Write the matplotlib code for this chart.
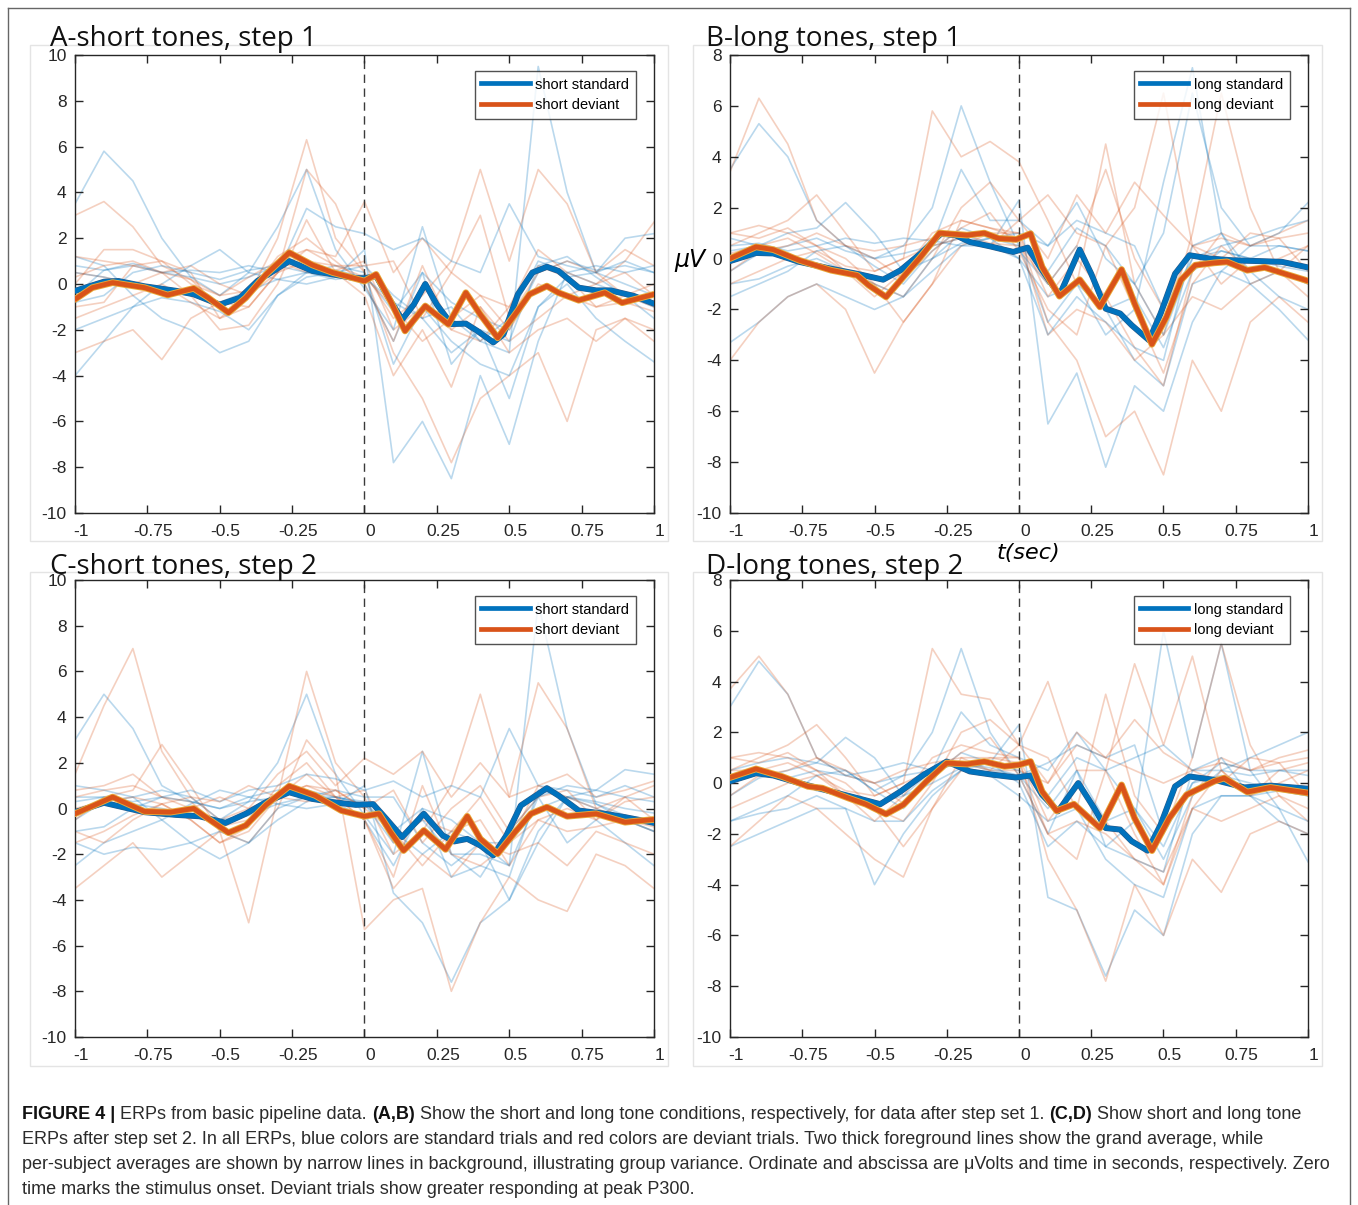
import numpy as np
import matplotlib
matplotlib.use('Agg')
import matplotlib.pyplot as plt
import matplotlib.patheffects as pe
import matplotlib.transforms as mtransforms
from matplotlib.lines import Line2D
from matplotlib.patches import Rectangle

BLUE = '#0072BD'
RED = '#D95319'

# grand averages (knots)
A_std_t = [-1, -0.9, -0.85, -0.76, -0.65, -0.59, -0.5, -0.43, -0.37, -0.26, -0.18, -0.11, -0.03, 0, 0.04, 0.09, 0.13, 0.17, 0.21, 0.25, 0.3, 0.35, 0.39, 0.445, 0.48, 0.53, 0.58, 0.63, 0.67, 0.74, 0.8, 0.85, 0.93, 1]
A_std_v = [-0.3, 0.1, 0.13, -0.1, -0.3, -0.45, -0.9, -0.6, 0.13, 1.0, 0.57, 0.42, 0.25, 0.25, 0.35, -0.75, -1.55, -0.9, 0.0, -0.9, -1.75, -1.73, -2.05, -2.55, -2.2, -0.45, 0.5, 0.75, 0.57, -0.16, -0.28, -0.28, -0.52, -0.86]
A_dev_t = [-1, -0.94, -0.87, -0.76, -0.68, -0.59, -0.54, -0.47, -0.41, -0.34, -0.26, -0.18, -0.11, 0, 0.04, 0.09, 0.14, 0.21, 0.29, 0.35, 0.4, 0.46, 0.52, 0.57, 0.63, 0.67, 0.74, 0.83, 0.89, 1]
A_dev_v = [-0.67, -0.16, 0.06, -0.16, -0.48, -0.19, -0.6, -1.25, -0.6, 0.42, 1.37, 0.83, 0.5, 0.13, 0.42, -0.75, -2.05, -0.96, -1.76, -0.38, -1.33, -2.35, -1.33, -0.45, -0.09, -0.38, -0.71, -0.38, -0.82, -0.45]

B_std_t = [-1, -0.91, -0.85, -0.76, -0.65, -0.56, -0.47, -0.41, -0.34, -0.27, -0.22, -0.17, -0.1, -0.02, 0.03, 0.08, 0.14, 0.21, 0.25, 0.3, 0.35, 0.39, 0.45, 0.49, 0.54, 0.59, 0.66, 0.74, 0.83, 0.91, 1]
B_std_v = [-0.1, 0.22, 0.2, -0.13, -0.4, -0.6, -0.83, -0.46, 0.2, 0.98, 0.92, 0.65, 0.48, 0.26, 0.43, -0.46, -1.44, 0.35, -0.6, -1.97, -2.16, -2.62, -3.21, -2.16, -0.6, 0.13, 0.0, -0.07, -0.1, -0.13, -0.35]
B_dev_t = [-1, -0.91, -0.85, -0.76, -0.65, -0.56, -0.52, -0.46, -0.41, -0.34, -0.275, -0.18, -0.12, -0.07, -0.01, 0.04, 0.08, 0.14, 0.21, 0.28, 0.355, 0.4, 0.46, 0.51, 0.56, 0.61, 0.675, 0.72, 0.79, 0.85, 0.92, 1]
B_dev_v = [0.0, 0.46, 0.35, -0.07, -0.46, -0.66, -1.05, -1.51, -0.85, 0.07, 1.0, 0.92, 1.0, 0.79, 0.75, 0.98, -0.33, -1.48, -0.83, -1.9, -0.43, -1.77, -3.37, -2.3, -0.85, -0.26, -0.17, -0.13, -0.46, -0.35, -0.6, -0.88]

C_std_t = [-1, -0.9, -0.76, -0.65, -0.57, -0.48, -0.41, -0.34, -0.26, -0.18, -0.11, -0.03, 0.03, 0.075, 0.13, 0.205, 0.27, 0.31, 0.355, 0.4, 0.445, 0.49, 0.54, 0.63, 0.67, 0.74, 0.83, 0.9, 1]
C_std_v = [-0.16, 0.25, -0.16, -0.28, -0.34, -0.63, -0.23, 0.28, 0.71, 0.42, 0.28, 0.16, 0.19, -0.45, -1.25, -0.23, -1.18, -1.44, -1.33, -1.62, -2.05, -1.18, 0.13, 0.89, 0.57, -0.09, -0.23, -0.38, -0.63]
C_dev_t = [-1, -0.87, -0.76, -0.67, -0.59, -0.54, -0.47, -0.41, -0.34, -0.26, -0.17, -0.08, 0, 0.05, 0.09, 0.135, 0.205, 0.28, 0.355, 0.4, 0.46, 0.52, 0.575, 0.63, 0.7, 0.8, 0.9, 1]
C_dev_v = [-0.23, 0.5, -0.13, -0.16, 0.0, -0.45, -1.06, -0.74, 0.16, 0.98, 0.57, -0.09, -0.34, -0.23, -1.03, -1.84, -0.96, -1.79, -0.34, -1.33, -1.98, -1.03, -0.23, 0.06, -0.34, -0.23, -0.6, -0.48]

D_std_t = [-1, -0.91, -0.85, -0.76, -0.65, -0.56, -0.48, -0.41, -0.33, -0.25, -0.17, -0.09, -0.01, 0.04, 0.08, 0.135, 0.205, 0.26, 0.3, 0.35, 0.39, 0.445, 0.49, 0.54, 0.59, 0.675, 0.78, 0.87, 1]
D_std_v = [0.07, 0.39, 0.3, 0.0, -0.33, -0.59, -0.83, -0.33, 0.33, 0.85, 0.46, 0.33, 0.22, 0.3, -0.46, -1.11, 0.0, -0.98, -1.77, -1.83, -2.29, -2.66, -1.64, -0.13, 0.26, 0.13, -0.17, -0.1, -0.22]
D_dev_t = [-1, -0.91, -0.82, -0.73, -0.68, -0.59, -0.53, -0.46, -0.4, -0.32, -0.25, -0.18, -0.12, -0.05, 0, 0.04, 0.08, 0.13, 0.19, 0.28, 0.355, 0.4, 0.46, 0.52, 0.58, 0.675, 0.71, 0.79, 0.87, 1]
D_dev_v = [0.22, 0.56, 0.26, -0.13, -0.2, -0.59, -0.83, -1.22, -0.85, 0.07, 0.79, 0.75, 0.85, 0.66, 0.72, 0.85, -0.33, -1.09, -0.83, -1.77, -0.07, -1.38, -2.66, -1.38, -0.46, 0.07, 0.2, -0.35, -0.17, -0.39]

# per-subject averages, sampled every 0.1 s from -1 to 1
bg_t = [-1.0, -0.9, -0.8, -0.7, -0.6, -0.5, -0.4, -0.3, -0.2, -0.1, 0.0, 0.1, 0.2, 0.3, 0.4, 0.5, 0.6, 0.7, 0.8, 0.9, 1.0]

A_std_bg = [
    [3.5, 5.8, 4.5, 2.0, 0.3, 0.0, 0.3, 0.8, 0.5, 0.2, 0.4, -1.2, 0.5, -0.8, -1.5, -2.0, 0.5, 1.0, 0.6, 0.8, 0.5],
    [-0.5, 0.6, 0.8, 0.5, 0.3, -0.5, 0.5, 2.5, 5.0, 1.5, -0.2, -2.0, 2.5, -1.5, -2.5, -3.0, 9.5, 4.0, 0.5, 0.0, -0.5],
    [-4.0, -2.5, -1.0, 0.0, 0.8, 1.5, 0.5, 0.2, 0.0, 0.3, 1.5, -7.8, -6.0, -8.5, -4.0, -7.0, -2.5, 0.5, 0.0, -0.5, -1.0],
    [1.2, 0.8, -0.5, -1.5, -2.0, -3.0, -2.5, -0.5, 0.3, 0.5, 0.8, -0.5, -1.5, -3.0, -2.0, -5.0, -1.0, 0.3, 0.5, 2.0, 2.2],
    [-2.0, -1.5, -1.0, -0.6, -0.8, -1.2, -2.0, -0.5, 0.5, 0.8, 0.5, -3.5, -1.0, -2.5, -3.5, -4.0, -1.0, 0.0, -1.5, -2.5, -3.4],
    [0.8, 0.6, 0.9, 0.5, 0.6, 0.5, 0.8, 0.5, 3.3, 2.5, 2.2, 1.5, 2.0, 1.0, 0.5, 3.5, 1.2, 0.8, 0.5, 1.0, 0.5],
    [0.5, 0.3, 0.0, -0.3, -0.5, -0.8, -0.3, 0.2, 0.5, 0.6, 0.3, -0.8, -1.5, -1.0, -2.5, -1.5, 1.0, 0.5, 0.8, 0.5, 0.8],
    [-0.8, -0.5, 0.5, 0.8, 0.5, 0.2, 0.6, 0.8, 1.0, 0.5, 0.0, -2.5, 0.5, -3.5, -2.0, -2.5, 0.8, 1.2, 0.3, -0.5, -1.5],
]
A_dev_bg = [
    [3.0, 3.6, 2.5, 0.8, 0.2, -0.5, 0.3, 1.0, 0.5, 0.6, 1.0, -2.0, -1.0, -2.0, -1.0, -2.5, -1.5, -0.5, 0.0, 1.0, 2.7],
    [0.5, 0.3, 0.0, 0.5, 0.8, 0.0, -0.5, 2.0, 6.3, 2.0, 0.5, -1.5, -0.5, 1.0, 5.0, 1.0, 5.0, 3.5, 0.5, -0.5, -1.0],
    [-3.0, -2.5, -2.0, -3.3, -1.5, -0.8, -1.0, 0.5, 5.0, 3.5, 0.5, -3.0, -5.0, -7.8, -5.0, -4.0, -3.0, -6.0, -2.0, -1.5, -2.5],
    [1.2, 1.0, 0.8, 1.0, 0.5, -1.5, -1.0, 0.5, 1.5, 1.2, 3.6, 0.5, 2.0, 0.5, 3.0, -1.5, 0.5, 1.0, 0.5, 1.5, 0.8],
    [-1.0, -0.8, 0.8, 0.5, -0.5, -2.0, -1.8, 0.0, 2.8, 0.5, -0.5, -4.0, -2.0, -4.5, -1.0, -3.0, -2.0, -1.5, -2.5, -1.5, -2.0],
    [0.0, 1.5, 1.5, 1.0, 0.0, -0.5, -0.3, 1.0, 1.5, 0.8, 0.8, 1.0, -1.5, 0.5, -0.5, -1.0, 0.8, 0.3, -1.0, -0.5, 0.0],
    [0.3, 0.8, 1.0, 0.5, 0.2, -1.0, -0.5, 0.5, 1.0, 0.8, 0.3, -1.0, -2.5, -1.5, -0.5, -2.0, 0.0, -0.5, -1.0, -0.8, -1.2],
    [-1.5, -1.0, -0.5, 0.0, -0.8, -1.5, -0.5, 1.2, 2.0, 1.0, 0.0, -2.5, 0.8, -2.0, -2.5, -1.0, 1.5, 0.5, 0.0, 0.5, -0.5],
]
B_std_bg = [
    [3.5, 5.3, 4.0, 1.5, 0.5, 0.0, 0.2, 0.5, 0.8, 0.5, 0.3, -1.0, 0.5, -2.0, -1.5, -3.5, -0.5, 0.3, 0.0, 0.5, 0.3],
    [-0.5, 0.2, 0.5, 0.8, 0.3, 0.0, 0.5, 2.0, 6.0, 3.0, 0.5, -2.5, -1.0, -3.0, -2.0, 3.0, 7.5, 1.0, -1.0, -0.5, -1.0],
    [-3.3, -2.5, -1.5, -1.0, -1.5, -2.0, -1.5, -0.5, 0.5, 0.5, 2.3, -6.5, -4.5, -8.2, -5.0, -6.0, -2.5, -0.5, -1.0, -2.0, -3.2],
    [0.8, 0.5, 1.0, 1.2, 2.2, 1.0, -0.5, 0.5, 3.5, 1.5, 1.5, 0.5, 2.2, 0.0, -1.0, 1.0, 6.5, 2.0, 0.5, 1.0, 2.2],
    [-1.0, -0.8, -0.3, 0.0, -0.5, -1.0, -1.5, 0.0, 1.0, 0.5, 0.0, -1.5, -1.0, -2.0, -4.0, -5.0, -1.0, -0.5, 0.5, 0.5, 0.3],
    [0.5, 0.6, 0.3, 0.5, 0.8, 0.6, 0.8, 0.7, 0.5, 0.8, 1.0, 0.5, 1.5, 1.0, 0.5, -2.0, 0.0, 0.5, 0.8, 1.2, 1.5],
    [0.3, 0.5, 0.2, -0.3, -0.5, -0.8, -0.5, 0.0, 0.6, 0.8, 0.5, -0.5, 1.2, 0.5, -1.0, -3.0, 0.0, 0.3, 0.0, -0.3, -0.5],
    [-1.5, -1.0, -0.5, 0.3, 0.5, -0.3, -1.0, 0.3, 1.2, 0.8, 0.0, -3.0, -1.5, -2.5, -3.5, -4.0, 0.5, 1.0, -0.5, -1.5, -2.0],
]
B_dev_bg = [
    [3.4, 6.3, 4.5, 1.5, 0.5, 0.3, 0.5, 0.8, 1.0, 0.6, 0.5, -1.0, 0.5, 3.5, 0.0, -2.0, 0.5, 0.8, 0.5, 1.0, 1.5],
    [0.5, 1.0, 1.5, 2.5, 1.0, -0.5, 0.0, 5.8, 4.0, 4.6, 3.8, 1.5, -1.0, 4.5, -1.0, -3.0, 1.0, 6.5, 2.0, -0.5, -1.0],
    [-4.0, -2.5, -1.5, -1.0, -2.0, -4.5, -2.5, -1.0, 0.5, 1.0, 1.0, -2.5, -4.0, -7.0, -6.0, -8.5, -4.0, -6.0, -2.5, -1.5, -2.5],
    [0.2, 0.5, 0.8, 0.2, -0.5, -1.0, -1.5, 0.0, 2.0, 3.0, 1.5, 2.5, 1.0, 0.5, 2.0, 6.5, 0.5, -1.0, 0.0, -0.5, 0.5],
    [1.0, 1.3, 1.0, 0.5, 0.0, -1.0, -2.5, -1.0, 1.5, 1.2, 0.8, -3.0, -2.0, -2.5, -4.0, -3.0, -1.5, -2.0, -1.0, -0.5, -1.5],
    [-1.0, -0.5, 0.0, 0.3, -0.3, -0.5, 0.0, 0.5, 0.8, 0.5, 1.5, 0.0, 2.5, 1.0, 3.0, 1.7, 0.5, 0.0, 1.0, 0.8, 1.0],
    [1.0, 0.8, 1.2, 0.5, -0.5, -1.5, -0.5, 1.0, 1.5, 1.2, 1.0, -1.5, 0.0, -1.5, -3.5, -5.0, -0.5, 1.0, 0.5, 0.8, -0.5],
    [-0.5, 0.3, 0.5, 1.0, 0.5, 0.0, -0.8, 0.3, 1.2, 1.8, 0.3, -2.0, -3.0, 0.5, -2.0, -4.5, -1.0, 0.5, -0.5, 0.0, 0.5],
]
C_std_bg = [
    [3.0, 5.0, 3.5, 1.0, 0.3, 0.0, 0.3, 0.5, 0.8, 0.5, 0.2, -1.0, 0.0, -0.5, -1.5, -1.5, 0.0, 0.5, 0.3, 0.0, -0.2],
    [-0.5, 0.3, 0.5, 0.8, 0.5, -0.5, 0.3, 2.0, 5.0, 1.5, -0.3, -2.0, 2.5, -2.0, -2.0, -2.5, 9.0, 3.5, 0.2, -0.3, -0.5],
    [-2.5, -1.5, -1.0, -0.5, 0.2, 0.8, 0.5, 0.2, 0.0, 0.2, 1.0, -3.7, -5.0, -7.6, -5.0, -4.0, -1.5, 0.5, 0.2, -0.5, -1.0],
    [1.0, 0.8, 0.5, -0.5, -1.5, -2.2, -1.5, 0.0, 0.5, 0.8, 0.5, 0.5, -1.5, -2.5, -1.5, -4.0, -1.0, 0.5, 0.8, 1.7, 1.5],
    [-1.5, -2.0, -1.7, -1.8, -1.5, -1.0, -1.5, -0.5, 0.3, 0.5, 0.2, -1.5, -0.5, -2.0, -3.0, -1.0, 0.5, -1.5, -0.5, -1.5, -2.5],
    [0.5, 0.5, 0.3, 0.5, 0.8, 0.3, 0.8, 1.0, 1.5, 1.3, 0.8, 1.2, 0.5, 1.0, 0.5, 3.5, 1.0, 0.8, 0.5, 1.0, 0.5],
    [0.3, 0.5, 0.2, 0.0, -0.3, -0.5, -0.3, 0.2, 0.5, 0.5, 0.3, -1.0, -2.0, -1.0, -1.5, -2.5, 0.5, 1.0, 0.8, 0.5, 0.3],
    [-1.0, -0.8, 0.0, 0.5, 0.3, 0.0, 0.5, 0.8, 0.8, 0.3, -0.5, -2.5, 0.0, -3.0, -2.5, -3.0, 0.8, 0.5, 0.0, -0.5, -1.0],
]
C_dev_bg = [
    [1.5, 4.5, 7.0, 2.5, 0.5, -0.5, 0.0, 0.5, 1.0, 0.5, 0.8, -1.5, -0.5, -1.0, 0.5, -1.5, -0.5, 0.0, -0.5, 0.5, 1.0],
    [-0.5, 0.5, 0.8, 2.8, 1.0, -1.0, -5.0, 0.5, 6.0, 2.0, 0.5, -2.0, -1.0, 1.0, 5.0, 0.5, 5.5, 3.5, 0.0, -0.5, -1.0],
    [-3.5, -2.5, -1.5, -3.0, -2.0, -1.0, -1.5, 0.0, 3.0, 1.5, -5.3, -4.0, -3.5, -8.0, -5.0, -3.0, -4.0, -4.5, -2.0, -2.5, -3.5],
    [0.8, 1.0, 1.5, 0.5, 0.0, 0.5, 0.0, 1.5, 2.5, 1.0, 2.2, 1.5, 2.5, 0.5, 2.0, 0.5, 1.0, 1.5, 0.5, 0.8, 1.2],
    [-1.0, -1.5, -0.5, 0.2, -0.5, -1.5, -1.0, 0.5, 1.5, 0.5, -0.5, -3.5, -2.0, -3.0, -1.5, -2.0, -1.5, -2.5, -1.0, -1.5, -2.0],
    [0.0, 0.3, 0.5, 0.2, 0.5, 0.3, 1.0, 0.5, 0.3, 0.8, 0.0, 0.8, -1.5, 0.0, 1.0, -1.0, 0.5, 0.8, -0.5, 0.3, 0.5],
    [0.5, 0.8, 1.0, 0.5, 0.3, -0.8, -0.5, 0.5, 1.0, 0.8, 0.0, -1.0, -2.5, -1.0, -0.5, -2.5, -0.5, -1.0, -0.8, -0.5, -0.8],
    [-1.5, -1.0, -0.3, 0.2, -0.5, -1.5, -0.8, 1.0, 2.0, 0.5, -0.5, -3.0, 1.0, -2.0, -2.5, -1.5, 1.0, 0.5, 0.0, 0.5, -0.5],
]
D_std_bg = [
    [3.0, 4.8, 3.5, 1.0, 0.3, 0.0, 0.3, 0.5, 0.8, 0.5, 0.3, -1.0, 0.5, -1.5, -1.0, -3.0, -0.5, 0.5, 0.3, 0.5, 0.3],
    [-0.5, 0.2, 0.5, 0.8, 0.5, -0.3, 0.3, 2.0, 5.3, 2.0, 0.3, -2.0, 0.5, -2.5, -1.5, 6.0, 1.0, 5.5, 0.5, -1.0, -3.1],
    [-2.5, -2.0, -1.5, -1.0, -1.0, -4.0, -2.0, -0.5, 0.5, 0.8, 2.3, -4.5, -5.0, -7.6, -5.0, -6.0, -2.0, -0.5, -0.5, -1.5, -2.0],
    [0.5, 0.8, 1.0, 0.8, 1.8, 1.0, -0.5, 0.5, 2.8, 1.5, 1.0, 0.5, 2.0, 0.5, 1.0, 1.5, 0.5, 0.5, 1.0, 1.5, 2.0],
    [-1.5, -1.2, -1.0, -0.5, -1.0, -1.5, -1.5, -0.3, 0.5, 0.3, -0.5, -1.5, -1.0, -3.0, -4.0, -4.5, -1.0, -0.5, -0.5, -0.3, -0.5],
    [0.3, 0.5, 0.2, 0.5, 0.3, 0.5, 0.8, 0.5, 0.8, 0.6, 0.3, 0.8, 1.5, 1.0, 1.5, -2.0, 0.0, 0.8, 0.5, 0.5, 0.5],
    [0.3, 0.5, 0.2, -0.3, -0.5, -0.8, -0.5, 0.0, 0.6, 0.8, 0.5, -0.5, 1.0, 0.5, -1.0, -2.5, 0.0, 0.3, 0.0, -0.3, -0.5],
    [-1.5, -1.0, -0.5, 0.3, 0.5, -0.3, -1.0, 0.3, 1.2, 0.8, 0.0, -2.5, -1.5, -2.5, -3.0, -3.5, 0.5, 1.0, -0.5, -1.0, -1.5],
]
D_dev_bg = [
    [3.7, 5.0, 3.5, 1.0, 0.3, 0.0, 0.5, 0.8, 1.0, 0.5, 0.5, 0.0, 1.5, 1.0, 0.5, 0.0, 0.5, 0.8, 0.5, 1.0, 1.3],
    [0.5, 1.0, 1.5, 2.3, 1.0, -0.5, 0.0, 5.3, 3.5, 3.3, 1.5, 1.0, -1.0, 3.5, -0.5, -2.0, 1.0, 5.5, 1.5, -0.5, -1.0],
    [-2.5, -1.5, -0.5, -1.0, -2.0, -3.0, -3.7, -1.0, 0.5, 1.0, 1.0, -3.0, -5.0, -7.8, -4.0, -6.0, -3.0, -4.3, -2.0, -1.5, -2.0],
    [0.5, 0.5, 0.8, 0.3, -0.5, -1.0, -1.5, 0.0, 2.0, 2.5, 1.5, 4.0, 0.5, 0.5, 4.7, 1.5, 5.0, 0.5, -0.5, 0.5, 0.8],
    [1.0, 1.2, 1.0, 0.5, 0.0, -1.0, -2.5, -1.0, 1.0, 1.0, 0.8, -2.0, -1.5, -2.0, -3.0, -3.5, -1.0, -1.5, -1.0, -0.5, -1.5],
    [-1.0, -0.5, 0.0, 0.3, -0.3, -0.5, 0.0, 0.5, 0.8, 0.5, 1.5, 0.0, 2.0, 1.0, 2.5, 1.2, 0.5, 0.0, 1.0, 0.8, 1.0],
    [1.0, 0.8, 1.2, 0.5, -0.5, -1.5, -0.5, 1.0, 1.5, 1.2, 1.0, -1.5, 0.0, -1.5, -3.0, -4.0, -0.5, 1.0, 0.5, 0.8, -0.5],
    [-0.5, 0.3, 0.5, 1.0, 0.5, 0.0, -0.8, 0.3, 1.2, 1.8, 0.3, -2.0, -3.0, 0.5, -2.0, -4.0, -1.0, 0.5, -0.5, 0.0, 0.5],
]

xticks = [-1, -0.75, -0.5, -0.25, 0, 0.25, 0.5, 0.75, 1]
xtick_labels = ['-1', '-0.75', '-0.5', '-0.25', '0', '0.25', '0.5', '0.75', '1']

titles = ['A-short tones, step 1', 'B-long tones, step 1', 'C-short tones, step 2', 'D-long tones, step 2']
short_labels = ['short standard', 'short deviant']
long_labels = ['long standard', 'long deviant']

caption = [
    [('FIGURE 4 |', True), (' ERPs from basic pipeline data. ', False), ('(A,B)', True),
     (' Show the short and long tone conditions, respectively, for data after step set 1. ', False),
     ('(C,D)', True), (' Show short and long tone', False)],
    [('ERPs after step set 2. In all ERPs, blue colors are standard trials and red colors are deviant trials. Two thick foreground lines show the grand average, while', False)],
    [('per-subject averages are shown by narrow lines in background, illustrating group variance. Ordinate and abscissa are \u03bcVolts and time in seconds, respectively. Zero', False)],
    [('time marks the stimulus onset. Deviant trials show greater responding at peak P300.', False)],
]

W, H = 1358, 1205
fig = plt.figure(figsize=(W / 100, H / 100), dpi=100)
plt.rcParams['font.family'] = ['Liberation Sans', 'DejaVu Sans']
plt.rcParams['axes.unicode_minus'] = False


def px_rect(left, top, right, bottom):
    return [left / W, 1 - bottom / H, (right - left) / W, (bottom - top) / H]


def draw_panel(rect, ylim, std_t, std_v, dev_t, dev_v, std_bg, dev_bg, labels):
    ax = fig.add_axes(rect)
    for s, d in zip(std_bg, dev_bg):
        ax.plot(bg_t, s, color=BLUE, alpha=0.27, lw=1.2, zorder=1, solid_joinstyle='round')
        ax.plot(bg_t, d, color=RED, alpha=0.27, lw=1.2, zorder=1, solid_joinstyle='round')
    ax.axvline(0, color='#3a3a3a', lw=1.0, ls=(0, (6, 4)), zorder=1.5)
    ax.plot(std_t, std_v, color=BLUE, lw=3.5, solid_joinstyle='round', solid_capstyle='round', zorder=3,
            path_effects=[pe.Stroke(linewidth=4.3, foreground='#2b5a88'), pe.Normal()])
    ax.plot(dev_t, dev_v, color=RED, lw=3.5, solid_joinstyle='round', solid_capstyle='round', zorder=4,
            path_effects=[pe.Stroke(linewidth=4.8, foreground='#e9a93a'), pe.Normal()])
    ax.set_xlim(-1, 1)
    ax.set_ylim(*ylim)
    ax.set_xticks(xticks)
    ax.set_xticklabels(xtick_labels)
    ax.set_yticks(np.arange(ylim[0], ylim[1] + 1, 2))
    ax.tick_params(direction='in', length=6, width=1, top=True, right=True, labelsize=12.5,
                   color='#262626', labelcolor='#262626')
    ax.tick_params(axis='x', pad=8)
    ax.tick_params(axis='y', pad=6)
    shift = mtransforms.ScaledTranslation(6 / 100, 0, fig.dpi_scale_trans)
    for lab in ax.get_xticklabels():
        lab.set_transform(lab.get_transform() + shift)
    for sp in ax.spines.values():
        sp.set_color('#262626')
        sp.set_linewidth(1.0)
    handles = [Line2D([], [], color=BLUE, lw=3.4), Line2D([], [], color=RED, lw=3.4)]
    ax_w = rect[2] * W
    ax_h = rect[3] * H
    leg = ax.legend(handles, labels, loc='upper right', bbox_to_anchor=(1 - 18 / ax_w, 1 - 16 / ax_h),
                    borderaxespad=0, fontsize=10.5, frameon=True, fancybox=False, handlelength=3.3,
                    handletextpad=0.4, borderpad=0.45, labelspacing=0.45)
    leg.get_frame().set_edgecolor('#262626')
    leg.get_frame().set_linewidth(1.0)
    return ax


# light frames around each sub-figure and outer border
for l, t, r, b in [(30, 45, 668, 541), (693, 45, 1322, 541), (30, 572, 668, 1066), (693, 572, 1322, 1066)]:
    fig.patches.append(Rectangle((l / W, 1 - b / H), (r - l) / W, (b - t) / H, transform=fig.transFigure,
                                 fill=False, edgecolor='#e4e4e4', lw=1.0))
fig.add_artist(Line2D([8 / W, 8 / W], [0, 1 - 8 / H], color='#666666', lw=1.0))
fig.add_artist(Line2D([1350 / W, 1350 / W], [0, 1 - 8 / H], color='#666666', lw=1.0))
fig.add_artist(Line2D([8 / W, 1350 / W], [1 - 8 / H, 1 - 8 / H], color='#666666', lw=1.0))

draw_panel(px_rect(75, 55, 654, 513), (-10, 10), A_std_t, A_std_v, A_dev_t, A_dev_v, A_std_bg, A_dev_bg, short_labels)
draw_panel(px_rect(730, 55, 1308, 513), (-10, 8), B_std_t, B_std_v, B_dev_t, B_dev_v, B_std_bg, B_dev_bg, long_labels)
draw_panel(px_rect(75, 580, 654, 1037), (-10, 10), C_std_t, C_std_v, C_dev_t, C_dev_v, C_std_bg, C_dev_bg, short_labels)
draw_panel(px_rect(730, 580, 1308, 1037), (-10, 8), D_std_t, D_std_v, D_dev_t, D_dev_v, D_std_bg, D_dev_bg, long_labels)

for (x, y), s in zip([(50, 46), (706, 46), (50, 574), (706, 574)], titles):
    fig.text(x / W, 1 - y / H, s, fontsize=20, family='Open Sans', color='#111111', va='baseline', ha='left')

fig.text(690 / W, 1 - 260 / H, '\u03bcV', fontsize=17, family='DejaVu Sans', style='italic', ha='center', va='center')
fig.text(1028 / W, 1 - 553 / H, 't(sec)', fontsize=16, family='DejaVu Sans', style='italic', ha='center', va='center')

# caption with bold fragments
renderer = fig.canvas.get_renderer()
CAP_FONT = ['Liberation Sans Narrow', 'Liberation Sans']
for i, segs in enumerate(caption):
    x = 22
    y = 1119 + 25 * i
    for s, bold in segs:
        txt = fig.text(x / W, 1 - y / H, s, fontsize=13, family=CAP_FONT,
                       weight='bold' if bold else 'normal', color='#111111' if bold else '#2b2b2b',
                       va='baseline', ha='left')
        x += txt.get_window_extent(renderer=renderer).width

fig.savefig('out.png', dpi=100)
